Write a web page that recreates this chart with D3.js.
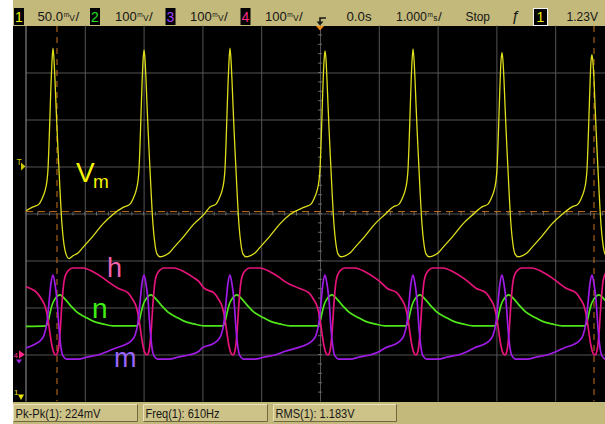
<!DOCTYPE html>
<html>
<head>
<meta charset="utf-8">
<script src="https://cdn.jsdelivr.net/npm/d3@7"></script>
<style>
html, body { margin: 0; padding: 0; background: #fff; }
svg { display: block; font-family: "Liberation Sans", Arial, sans-serif; }
</style>
</head>
<body>
<svg id="scope" width="605" height="424"></svg>
<script>
// ---- Status bar settings ----
const channelIds = ["1", "2", "3", "4"];
const channelScaleText = ["50.0", "100", "100", "100"];
const timeRefText = "0.0s";
const timeScaleText = "1.000";
const runStateText = "Stop";
const trigSourceText = "1";
const trigLevelText = "1.23V";
const measurementText = ["Pk-Pk(1): 224mV", "Freq(1): 610Hz", "RMS(1): 1.183V"];

// ---- Vertical settings ----
const ch1VoltsPerDiv = 0.05;   // V / div
const ch1Center = 1.18;        // V at screen centre
const gateMvPerDiv = 100;      // mV / div for h, n, m
const gateCenter = 300;        // mV at screen centre
const triggerLevel = 1.23;     // V
const cursorTimes = [-4.473, 4.660];  // ms
const cursorLevel = 1.182;            // V

// ---- Membrane potential Vm (channel 1): [time ms, volts] ----
const vmTrace = [
[-5.000,1.183],
[-4.881,1.187],[-4.779,1.190],[-4.711,1.198],[-4.677,1.204],[-4.643,1.215],[-4.626,1.227],[-4.609,1.253],[-4.592,1.285],[-4.575,1.317],[-4.558,1.342],[-4.541,1.356],
[-4.524,1.344],[-4.507,1.322],[-4.490,1.296],[-4.473,1.271],[-4.456,1.248],[-4.422,1.205],[-4.388,1.168],[-4.354,1.147],[-4.320,1.137],[-4.269,1.132],[-4.201,1.135],[-4.116,1.138],[-4.031,1.144],[-3.861,1.156],[-3.691,1.169],[-3.521,1.179],
[-3.333,1.187],[-3.231,1.190],[-3.163,1.198],[-3.129,1.204],[-3.095,1.215],[-3.078,1.227],[-3.061,1.253],[-3.044,1.285],[-3.027,1.317],[-3.010,1.342],[-2.993,1.354],
[-2.976,1.344],[-2.959,1.322],[-2.942,1.296],[-2.925,1.271],[-2.908,1.248],[-2.874,1.205],[-2.840,1.168],[-2.806,1.147],[-2.772,1.137],[-2.721,1.134],[-2.653,1.135],[-2.568,1.138],[-2.483,1.144],[-2.313,1.156],[-2.143,1.169],[-1.973,1.179],
[-1.871,1.187],[-1.769,1.190],[-1.701,1.198],[-1.667,1.204],[-1.633,1.215],[-1.616,1.227],[-1.599,1.253],[-1.582,1.285],[-1.565,1.317],[-1.548,1.342],[-1.531,1.356],
[-1.514,1.344],[-1.497,1.322],[-1.480,1.296],[-1.463,1.271],[-1.446,1.248],[-1.412,1.205],[-1.378,1.168],[-1.344,1.147],[-1.310,1.137],[-1.259,1.134],[-1.191,1.135],[-1.106,1.138],[-1.021,1.144],[-0.851,1.156],[-0.681,1.169],[-0.511,1.179],
[-0.255,1.187],[-0.153,1.190],[-0.085,1.198],[-0.051,1.204],[-0.017,1.215],[0.000,1.227],[0.017,1.253],[0.034,1.285],[0.051,1.317],[0.068,1.342],[0.085,1.353],
[0.102,1.344],[0.119,1.322],[0.136,1.296],[0.153,1.271],[0.170,1.248],[0.204,1.205],[0.238,1.168],[0.272,1.147],[0.306,1.137],[0.357,1.134],[0.425,1.135],[0.510,1.138],[0.595,1.144],[0.765,1.156],[0.935,1.169],[1.105,1.179],
[1.242,1.187],[1.344,1.190],[1.412,1.198],[1.446,1.204],[1.480,1.215],[1.497,1.227],[1.514,1.253],[1.531,1.285],[1.548,1.317],[1.565,1.342],[1.582,1.355],
[1.599,1.344],[1.616,1.322],[1.633,1.296],[1.650,1.271],[1.667,1.248],[1.701,1.205],[1.735,1.168],[1.769,1.147],[1.803,1.137],[1.854,1.134],[1.922,1.135],[2.007,1.138],[2.092,1.144],[2.262,1.156],[2.432,1.169],[2.602,1.179],
[2.755,1.187],[2.857,1.190],[2.925,1.198],[2.959,1.204],[2.993,1.215],[3.010,1.227],[3.027,1.253],[3.044,1.285],[3.061,1.317],[3.078,1.342],[3.095,1.351],
[3.112,1.342],[3.129,1.322],[3.146,1.296],[3.163,1.271],[3.180,1.248],[3.214,1.205],[3.248,1.168],[3.282,1.147],[3.316,1.137],[3.367,1.134],[3.435,1.135],[3.520,1.138],[3.605,1.144],[3.775,1.156],[3.945,1.169],[4.115,1.179],
[4.286,1.187],[4.388,1.190],[4.456,1.198],[4.490,1.204],[4.524,1.215],[4.541,1.227],[4.558,1.253],[4.575,1.285],[4.592,1.317],[4.609,1.342],[4.626,1.349],
[4.643,1.340],[4.660,1.322],[4.677,1.296],[4.694,1.271],[4.711,1.248],[4.745,1.205],[4.779,1.168],[4.813,1.147],[4.847,1.137],[4.898,1.134],[4.966,1.135],[5.051,1.138]
];

// ---- Gating variable h (channel 4): [time ms, mV] ----
const hTrace = [
[-5.000,144],
[-4.813,131],[-4.728,116],[-4.677,103],[-4.626,75],[-4.592,45],[-4.558,18],[-4.524,3],[-4.490,-1],[-4.456,8],[-4.422,45],[-4.388,110],[-4.354,155],[-4.303,175],[-4.201,184],[-4.031,184],[-3.861,176],[-3.691,163],[-3.606,155],
[-3.435,141],[-3.265,131],[-3.180,116],[-3.129,103],[-3.078,75],[-3.044,45],[-3.010,18],[-2.976,3],[-2.942,-1],[-2.908,8],[-2.874,45],[-2.840,110],[-2.806,155],[-2.755,175],[-2.653,184],[-2.483,184],[-2.313,176],[-2.143,163],[-2.058,155],
[-1.973,141],[-1.803,131],[-1.718,116],[-1.667,103],[-1.616,75],[-1.582,45],[-1.548,18],[-1.514,3],[-1.480,-1],[-1.446,8],[-1.412,45],[-1.378,110],[-1.344,155],[-1.293,175],[-1.191,184],[-1.021,184],[-0.851,176],[-0.681,163],[-0.596,155],
[-0.357,141],[-0.187,131],[-0.102,116],[-0.051,103],[0.000,75],[0.034,45],[0.068,18],[0.102,3],[0.136,-1],[0.170,8],[0.204,45],[0.238,110],[0.272,155],[0.323,175],[0.425,184],[0.595,184],[0.765,176],[0.935,163],[1.020,155],
[1.140,141],[1.310,131],[1.395,116],[1.446,103],[1.497,75],[1.531,45],[1.565,18],[1.599,3],[1.633,-1],[1.667,8],[1.701,45],[1.735,110],[1.769,155],[1.820,175],[1.922,184],[2.092,184],[2.262,176],[2.432,163],[2.517,155],
[2.653,141],[2.823,131],[2.908,116],[2.959,103],[3.010,75],[3.044,45],[3.078,18],[3.112,3],[3.146,-1],[3.180,8],[3.214,45],[3.248,110],[3.282,155],[3.333,175],[3.435,184],[3.605,184],[3.775,176],[3.945,163],[4.030,155],
[4.184,141],[4.354,131],[4.439,116],[4.490,103],[4.541,75],[4.575,45],[4.609,18],[4.643,3],[4.677,-1],[4.711,8],[4.745,45],[4.779,110],[4.813,155],[4.864,175],[4.966,184],[5.136,184]
];

// ---- Gating variable n (channel 2): [time ms, mV] ----
const nTrace = [
[-5.000,60],
[-4.660,61],[-4.626,69],[-4.592,88],[-4.558,105],[-4.507,118],[-4.422,127],[-4.337,118],[-4.235,103],[-4.133,90],[-3.997,80],[-3.861,71],[-3.691,65],[-3.521,61],
[-3.112,61],[-3.078,69],[-3.044,88],[-3.010,105],[-2.959,118],[-2.874,127],[-2.789,118],[-2.687,103],[-2.585,90],[-2.449,80],[-2.313,71],[-2.143,65],[-1.973,61],
[-1.650,61],[-1.616,69],[-1.582,88],[-1.548,105],[-1.497,118],[-1.412,127],[-1.327,118],[-1.225,103],[-1.123,90],[-0.987,80],[-0.851,71],[-0.681,65],[-0.511,61],
[-0.034,61],[0.000,69],[0.034,88],[0.068,105],[0.119,118],[0.204,127],[0.289,118],[0.391,103],[0.493,90],[0.629,80],[0.765,71],[0.935,65],[1.105,61],
[1.463,61],[1.497,69],[1.531,88],[1.565,105],[1.616,118],[1.701,127],[1.786,118],[1.888,103],[1.990,90],[2.126,80],[2.262,71],[2.432,65],[2.602,61],
[2.976,61],[3.010,69],[3.044,88],[3.078,105],[3.129,118],[3.214,127],[3.299,118],[3.401,103],[3.503,90],[3.639,80],[3.775,71],[3.945,65],[4.115,61],
[4.507,61],[4.541,69],[4.575,88],[4.609,105],[4.660,118],[4.745,127],[4.830,118],[4.932,103],[5.034,90]
];

// ---- Gating variable m (channel 3): [time ms, mV] ----
const mTrace = [
[-5.000,14],
[-4.847,22],[-4.745,31],[-4.694,41],[-4.643,69],[-4.609,110],[-4.575,152],[-4.541,169],[-4.507,150],[-4.473,116],[-4.439,56],[-4.405,14],[-4.371,-3],[-4.303,-10],[-4.116,-10],[-3.946,-5],[-3.776,-1],[-3.606,7],
[-3.469,14],[-3.299,22],[-3.197,31],[-3.146,41],[-3.095,69],[-3.061,110],[-3.027,152],[-2.993,169],[-2.959,150],[-2.925,116],[-2.891,56],[-2.857,14],[-2.823,-3],[-2.755,-10],[-2.568,-10],[-2.398,-5],[-2.228,-1],[-2.058,7],
[-2.007,14],[-1.837,22],[-1.735,31],[-1.684,41],[-1.633,69],[-1.599,110],[-1.565,152],[-1.531,169],[-1.497,150],[-1.463,116],[-1.429,56],[-1.395,14],[-1.361,-3],[-1.293,-10],[-1.106,-10],[-0.936,-5],[-0.766,-1],[-0.596,7],
[-0.391,14],[-0.221,22],[-0.119,31],[-0.068,41],[-0.017,69],[0.017,110],[0.051,152],[0.085,169],[0.119,150],[0.153,116],[0.187,56],[0.221,14],[0.255,-3],[0.323,-10],[0.510,-10],[0.680,-5],[0.850,-1],[1.020,7],
[1.106,14],[1.276,22],[1.378,31],[1.429,41],[1.480,69],[1.514,110],[1.548,152],[1.582,169],[1.616,150],[1.650,116],[1.684,56],[1.718,14],[1.752,-3],[1.820,-10],[2.007,-10],[2.177,-5],[2.347,-1],[2.517,7],
[2.619,14],[2.789,22],[2.891,31],[2.942,41],[2.993,69],[3.027,110],[3.061,152],[3.095,169],[3.129,150],[3.163,116],[3.197,56],[3.231,14],[3.265,-3],[3.333,-10],[3.520,-10],[3.690,-5],[3.860,-1],[4.030,7],
[4.150,14],[4.320,22],[4.422,31],[4.473,41],[4.524,69],[4.558,110],[4.592,152],[4.626,169],[4.660,150],[4.694,116],[4.728,56],[4.762,14],[4.796,-3],[4.864,-10],[5.051,-10]
];

// ---- Layout ----
const W = 605, H = 424;
const plot = { left: 26, right: 614, top: 25.5, bottom: 401.5 };
const colors = {
  bar: "#c3b97b", boxFill: "#cdc389", grid: "#555555", border: "#9a9a9a",
  cursor: "#c8731e", vm: "#dede1c", h: "#e4147a", n: "#4fe51a", m: "#a01ce6"
};

const svg = d3.select("#scope");

// Scales: 10 horizontal divisions of 1 ms, 8 vertical divisions
const x = d3.scaleLinear().domain([-5, 5]).range([plot.left, plot.right]);
const yV = d3.scaleLinear()
  .domain([ch1Center - 4 * ch1VoltsPerDiv, ch1Center + 4 * ch1VoltsPerDiv])
  .range([plot.bottom, plot.top]);
const yG = d3.scaleLinear()
  .domain([gateCenter - 4 * gateMvPerDiv, gateCenter + 4 * gateMvPerDiv])
  .range([plot.bottom, plot.top]);

// Background panels
svg.append("rect").attr("width", W).attr("height", H).attr("fill", "#fff");
svg.append("rect").attr("x", 13).attr("y", 0).attr("width", W - 13).attr("height", 26).attr("fill", colors.bar);
svg.append("rect").attr("x", 13).attr("y", 26).attr("width", W - 13).attr("height", 376).attr("fill", "#000");
svg.append("rect").attr("x", 13).attr("y", 402).attr("width", W - 13).attr("height", 22).attr("fill", colors.bar);

// Graticule from axes with full-length ticks
const gridX = svg.append("g")
  .attr("transform", `translate(0,${plot.bottom})`)
  .call(d3.axisBottom(x).tickValues(d3.range(-4, 5)).tickSize(-(plot.bottom - plot.top)).tickFormat(""));
const gridY = svg.append("g")
  .attr("transform", `translate(${plot.left},0)`)
  .call(d3.axisLeft(yG).tickValues(d3.range(0, 700, 100)).tickSize(-(plot.right - plot.left)).tickFormat(""));
[gridX, gridY].forEach(g => {
  g.select(".domain").remove();
  g.selectAll("line").attr("stroke", colors.grid).attr("stroke-width", 1);
});

// Minor ticks along the centre lines
const minor = svg.append("g").attr("stroke", "#6a6a6a").attr("stroke-width", 1);
minor.selectAll(".mx").data(d3.range(-4.8, 5, 0.2)).join("line")
  .attr("x1", d => x(d)).attr("x2", d => x(d))
  .attr("y1", yG(gateCenter) - 2).attr("y2", yG(gateCenter) + 2);
minor.selectAll(".my").data(d3.range(-80, 700, 20)).join("line")
  .attr("x1", x(0) - 2).attr("x2", x(0) + 2)
  .attr("y1", d => yG(d)).attr("y2", d => yG(d));

// Left border of the graticule
svg.append("line").attr("x1", plot.left).attr("x2", plot.left)
  .attr("y1", 26).attr("y2", plot.bottom).attr("stroke", colors.border);

// Clip for traces and cursors
svg.append("clipPath").attr("id", "screenClip")
  .append("rect").attr("x", plot.left).attr("y", 26).attr("width", W - plot.left).attr("height", plot.bottom - 26);
const traceLayer = svg.append("g").attr("clip-path", "url(#screenClip)");

// Cursors
traceLayer.selectAll(".cur").data(cursorTimes).join("line")
  .attr("x1", d => x(d)).attr("x2", d => x(d)).attr("y1", 26).attr("y2", plot.bottom)
  .attr("stroke", colors.cursor).attr("stroke-dasharray", "6,5");
traceLayer.append("line")
  .attr("x1", plot.left).attr("x2", W).attr("y1", yV(cursorLevel)).attr("y2", yV(cursorLevel))
  .attr("stroke", colors.cursor).attr("stroke-dasharray", "7,5");

// Traces
const lineV = d3.line().x(d => x(d[0])).y(d => yV(d[1])).curve(d3.curveMonotoneX);
const lineG = d3.line().x(d => x(d[0])).y(d => yG(d[1])).curve(d3.curveMonotoneX);
[[nTrace, colors.n], [hTrace, colors.h], [mTrace, colors.m]].forEach(([data, c]) => {
  traceLayer.append("path").datum(data).attr("d", lineG)
    .attr("fill", "none").attr("stroke", c).attr("stroke-width", 1.7).attr("stroke-linejoin", "round");
});
traceLayer.append("path").datum(vmTrace).attr("d", lineV)
  .attr("fill", "none").attr("stroke", colors.vm).attr("stroke-width", 1.3).attr("stroke-linejoin", "round");

// Trace labels
const lab = svg.append("g");
lab.append("text").attr("x", 76).attr("y", 182).attr("font-size", 28).attr("fill", "#f6f600").text("V");
lab.append("text").attr("x", 93).attr("y", 188).attr("font-size", 19).attr("fill", "#f6f600").text("m");
lab.append("text").attr("x", 107).attr("y", 277).attr("font-size", 27).attr("fill", "#f062b0").text("h");
lab.append("text").attr("x", 92).attr("y", 318).attr("font-size", 28).attr("fill", "#3fee16").text("n");
lab.append("text").attr("x", 114).attr("y", 367).attr("font-size", 27).attr("fill", "#9a66ff").text("m");

// Left-side markers: trigger level, channel references
const mk = svg.append("g");
const ty = yV(triggerLevel);
mk.append("text").attr("x", 16.5).attr("y", ty - 1.5).attr("font-size", 8.5).attr("fill", "#caca00").text("T");
mk.append("path").attr("d", `M21,${ty - 4} L25.5,${ty} L21,${ty + 4} Z`).attr("fill", "#caca00");
const gy = yG(0);
mk.append("text").attr("x", 13.5).attr("y", gy + 3.5).attr("font-size", 8).attr("fill", "#ff2a88").text("4");
mk.append("path").attr("d", `M19,${gy - 4} L25,${gy} L19,${gy + 4} Z`).attr("fill", "#ff2a88");
mk.append("path").attr("d", `M16,${gy + 5} L22,${gy + 5} L19,${gy + 9} Z`).attr("fill", "#a02ce6");
mk.append("text").attr("x", 14).attr("y", 395).attr("font-size", 8).attr("fill", "#e6e600").text("1");
mk.append("path").attr("d", "M18,394.5 L24,394.5 L21,400 Z").attr("fill", "#e6e600");

// ---- Top status bar ----
const statusBar = svg.append("g").attr("font-size", 13.5).attr("fill", "#161616");
const chColors = ["#f0f000", "#22e022", "#a040ff", "#ff2a88"];
const chBoxX = [14, 90, 165.5, 240.5];
const chTextX = [37.5, 115, 190, 265];
const chTextW = [25.6, 21.7, 21.7, 21.7];
// Compact unit: small raised prefix followed by the unit letter; returns the end x
function compactUnit(g, x0, prefix, unit) {
  const t = g.append("text");
  t.append("tspan").attr("x", x0).attr("y", 16.5).attr("font-size", 6.5).text(prefix);
  t.append("tspan").attr("x", x0 + 5.6).attr("y", 21).attr("font-size", 8.5).text(unit);
  return x0 + 5.6 + (unit === "V" ? 5.8 : 4.5);
}
channelIds.forEach((id, i) => {
  statusBar.append("rect").attr("x", chBoxX[i]).attr("y", 8).attr("width", 10).attr("height", 17).attr("fill", "#000");
  statusBar.append("text").attr("x", chBoxX[i] + 5).attr("y", 21.5).attr("text-anchor", "middle")
    .attr("font-size", 14).attr("fill", chColors[i]).text(id);
  statusBar.append("text").attr("x", chTextX[i]).attr("y", 21)
    .attr("textLength", chTextW[i]).attr("lengthAdjust", "spacingAndGlyphs").text(channelScaleText[i]);
  const ux = compactUnit(statusBar, chTextX[i] + chTextW[i] + 0.6, "m", "V");
  statusBar.append("text").attr("x", ux + 0.3).attr("y", 21).text("/");
});

// Trigger position glyph and marker
statusBar.append("path").attr("d", "M326,18 H320 V22").attr("fill", "none").attr("stroke", "#161616").attr("stroke-width", 1.6);
statusBar.append("path").attr("d", "M316.5,21.5 L323.5,21.5 L320,25.5 Z").attr("fill", "#161616");
svg.append("path").attr("d", `M${x(0) - 4},26 L${x(0) + 4},26 L${x(0)},30.5 Z`).attr("fill", "#f08a1a");

statusBar.append("text").attr("x", 346.5).attr("y", 21).attr("textLength", 25).attr("lengthAdjust", "spacingAndGlyphs").text(timeRefText);
statusBar.append("text").attr("x", 396).attr("y", 21).attr("font-size", 12.4).text(timeScaleText);
const tx = compactUnit(statusBar, 427.6, "m", "s");
statusBar.append("text").attr("x", tx + 0.3).attr("y", 21).text("/");
statusBar.append("text").attr("x", 465.5).attr("y", 21).attr("textLength", 24.5).attr("lengthAdjust", "spacingAndGlyphs").text(runStateText);
statusBar.append("text").attr("x", 511).attr("y", 21).attr("font-style", "italic").attr("font-size", 15).text("ƒ");
statusBar.append("rect").attr("x", 533.5).attr("y", 8.5).attr("width", 14).attr("height", 17)
  .attr("fill", "#000").attr("stroke", "#f4f4f4").attr("stroke-width", 1);
statusBar.append("text").attr("x", 540.5).attr("y", 21.5).attr("text-anchor", "middle").attr("font-size", 14)
  .attr("fill", "#f0f000").text(trigSourceText);
statusBar.append("text").attr("x", 566.5).attr("y", 21).attr("textLength", 31.5).attr("lengthAdjust", "spacingAndGlyphs").text(trigLevelText);

// ---- Bottom measurement boxes ----
const bot = svg.append("g");
const boxX = [13.5, 143.5, 273.5];
const boxW = [124, 124, 123];
const textW = [85, 74, 79];
measurementText.forEach((t, i) => {
  const bx = boxX[i], by = 404.5, bw = boxW[i], bh = 17;
  bot.append("rect").attr("x", bx).attr("y", by).attr("width", bw).attr("height", bh).attr("fill", colors.boxFill);
  bot.append("path").attr("d", `M${bx},${by + bh} V${by} H${bx + bw}`).attr("fill", "none").attr("stroke", "#ebe4b8");
  bot.append("path").attr("d", `M${bx + bw},${by} V${by + bh} H${bx}`).attr("fill", "none").attr("stroke", "#6f6840");
  bot.append("text").attr("x", bx + 2).attr("y", 417.5).attr("font-size", 13).attr("fill", "#161616")
    .attr("textLength", textW[i]).attr("lengthAdjust", "spacingAndGlyphs").text(t);
});
</script>
</body>
</html>
